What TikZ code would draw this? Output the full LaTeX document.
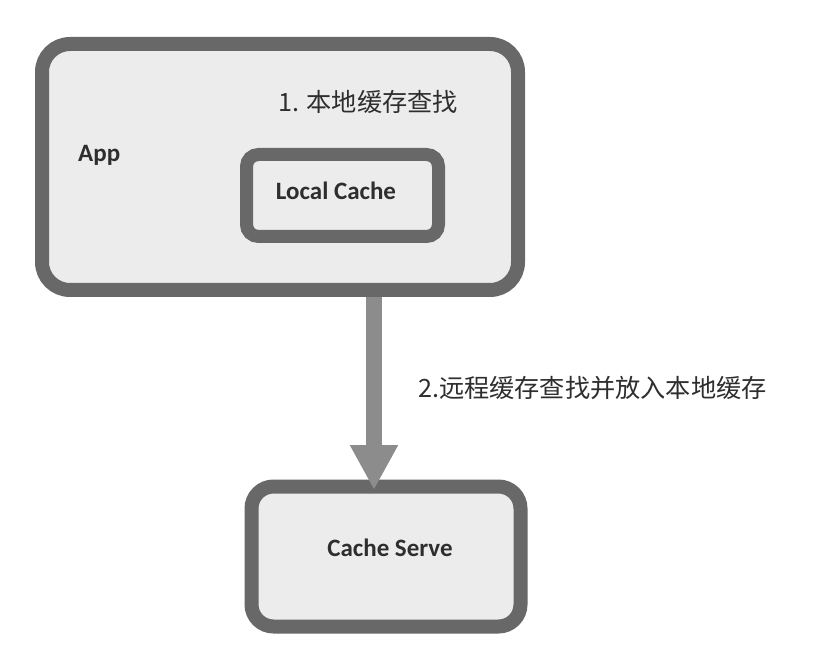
\documentclass[tikz,border=0pt]{standalone}
\usepackage{fontspec}
\setmainfont{Carlito}
\newfontfamily\cjk{Noto Sans CJK SC}
\usepackage{tikz}
\usetikzlibrary{
	positioning,
	arrows.meta
}
\definecolor{rim}{HTML}{686868}
\definecolor{pane}{HTML}{ECECEC}
\definecolor{flowgray}{HTML}{8C8C8C}
\definecolor{ink}{HTML}{2E2E2E}
\tikzset{
	box/.style={draw=rim, fill=pane, line width=14pt, rounded corners=28pt},
	innerbox/.style={draw=rim, fill=pane, line width=13pt, rounded corners=12pt},
	boxtext/.style={text=ink, font=\fontsize{25}{29}\selectfont\bfseries, inner sep=0pt},
	steptext/.style={text=ink, font=\cjk\fontsize{25.2}{29}\selectfont, inner sep=0pt},
	flow/.style={draw=flowgray, line width=16pt, -{Triangle[width=45pt,length=45pt]}, fill=flowgray}
}

\begin{document}
\begin{tikzpicture}[x=1pt,y=-1pt]
		\useasboundingbox[fill=white] (0,0) rectangle (838,652);
		\coordinate (tip) at (374,490);
		\draw
			node[box,minimum width=476pt,minimum height=246pt]      (app)   at (280,167)   {}
			node[boxtext,anchor=west]                               (appname) at (78,155)  {App}
			node[innerbox,minimum width=192pt,minimum height=82pt]  (local) at (342.5,195.5) {}
			node[boxtext]                                           (localname) at (336,191) {Local Cache}
			node[steptext,anchor=west]                              (step1) at (278,102)   {1. 本地缓存查找}
			node[box,rounded corners=22pt,minimum width=269pt,minimum height=140pt] (serve) at (386,556.5) {}
			node[boxtext]                                           (servename) at (390,548) {Cache Serve}
			node[steptext,anchor=west]                              (step2) at (418,388)   {2.远程缓存查找并放入本地缓存}

			(app.south -| tip) edge[flow] (tip)
		;
	\end{tikzpicture}
\end{document}
